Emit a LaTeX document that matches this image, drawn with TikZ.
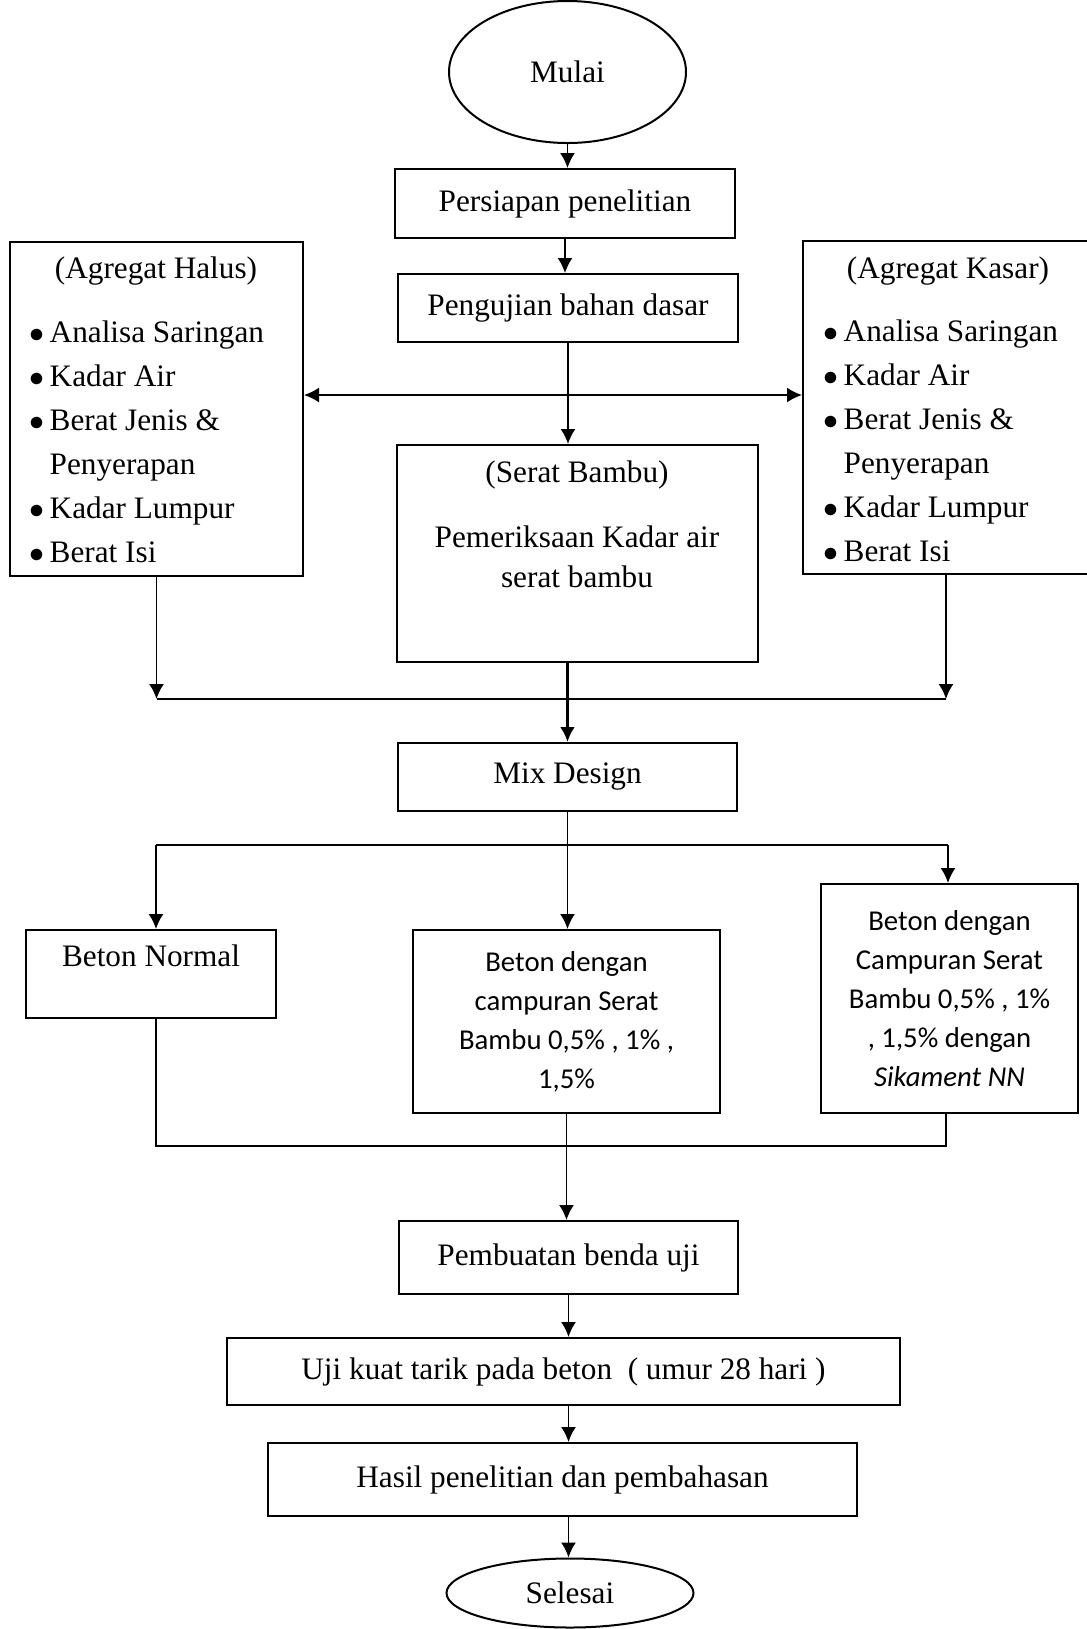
\documentclass[tikz,border=0pt]{standalone}
\usepackage{fontspec}
\setmainfont{Liberation Serif}
\newfontfamily\calfont{Carlito}
\usetikzlibrary{shapes.geometric,arrows.meta,calc}

\begin{document}
\begin{tikzpicture}[x=0.4pt, y=-0.4pt, >={Latex[length=6pt,width=6pt]},
  font=\fontsize{12.5}{17.6}\selectfont,
  box/.style={draw, line width=0.8pt, rectangle, inner sep=0pt},
  oval/.style={draw, line width=0.8pt, ellipse, inner sep=0pt},
  conn/.style={line width=0.7pt},
  cal/.style={font=\calfont\fontsize{11.5}{15.6}\selectfont, align=center}]

\useasboundingbox (0,0) rectangle (1087,1629);

\node [oval, minimum width=94.8pt, minimum height=56.8pt] at (567.5, 72) (mulai) {Mulai};
\node [box, minimum width=136pt, minimum height=27.6pt] at (565, 203.5) (persiapan) {Persiapan penelitian};
\node [box, minimum width=136pt, minimum height=27.2pt] at (568, 308) (pengujian) {Pengujian bahan dasar};
\draw [->, conn] (mulai.south) -- (mulai.south |- persiapan.north);
\draw [->, conn] (persiapan.south) -- (persiapan.south |- pengujian.north);

\node [box, minimum width=117.2pt, minimum height=133.6pt] at (156.5, 409) (halus) {};
\node at (156, 271) (halusT) {(Agregat Halus)};
\node [anchor=west, align=left, inner sep=0pt] at (29, 442) (halusL) {$\bullet$\,Analisa Saringan\\
  $\bullet$\,Kadar Air\\ $\bullet$\,Berat Jenis \&\\ \phantom{$\bullet$\,}Penyerapan\\
  $\bullet$\,Kadar Lumpur\\ $\bullet$\,Berat Isi};

\node [box, minimum width=114.4pt, minimum height=133.2pt] at (946, 407.5) (kasar) {};
\node at (948, 271) (kasarT) {(Agregat Kasar)};
\node [anchor=west, align=left, inner sep=0pt] at (823, 441) (kasarL) {$\bullet$\,Analisa Saringan\\
  $\bullet$\,Kadar Air\\ $\bullet$\,Berat Jenis \&\\ \phantom{$\bullet$\,}Penyerapan\\
  $\bullet$\,Kadar Lumpur\\ $\bullet$\,Berat Isi};

\node [box, minimum width=144.4pt, minimum height=86.8pt] at (577.5, 553.5) (serat) {};
\node at (577, 475) (seratT) {(Serat Bambu)};
\node [align=center, font=\fontsize{12.5}{15.8}\selectfont] at (577, 557) (seratL) {Pemeriksaan Kadar air\\serat bambu};

\coordinate (hub) at (568, 395);
\draw [->, conn] (pengujian.south) -- (pengujian.south |- serat.north);
\draw [<->, conn] (halus.east |- hub) -- (kasar.west |- hub);

\coordinate (jL) at (157, 699);
\coordinate (jR) at (946, 699);
\draw [->, conn] (halus.south) -- (halus.south |- jL);
\draw [->, conn] (kasar.south) -- (kasar.south |- jR);
\draw [conn] (jL) -- (jR);

\node [box, minimum width=135.6pt, minimum height=27.2pt] at (567.5, 777) (mix) {Mix Design};
\draw [->, line width=1.2pt] (mix.north |- serat.south) -- (mix.north);

\node [box, minimum width=100pt, minimum height=35.2pt] at (151, 974) (normal) {};
\node at (151, 956) (normalT) {Beton Normal};
\node [box, cal, minimum width=122.8pt, minimum height=73.2pt] at (566.5, 1021.5) (campur) {Beton dengan\\campuran Serat\\Bambu 0,5\% , 1\% ,\\1,5\%};
\node [box, cal, minimum width=102.8pt, minimum height=91.6pt] at (949.5, 998.5) (sika) {Beton dengan\\Campuran Serat\\Bambu 0,5\% , 1\%\\, 1,5\% dengan\\\textit{Sikament NN}};

\coordinate (bL) at (156, 845);
\coordinate (bR) at (948, 845);
\draw [conn] (bL) -- (bR);
\draw [->, conn] (mix.south) -- (mix.south |- campur.north);
\draw [->, conn] (bL) -- (bL |- normal.north);
\draw [->, conn] (bR) -- (bR |- sika.north);

\coordinate (cL) at (156, 1146);
\coordinate (cR) at (946, 1146);
\draw [conn] (normal.south -| cL) -- (cL) -- (cR) -- (cR |- sika.south);

\node [box, minimum width=135.6pt, minimum height=29.2pt] at (568.5, 1257.5) (pembuatan) {Pembuatan benda uji};
\node [box, minimum width=269.2pt, minimum height=26.8pt] at (563.5, 1371.5) (uji) {Uji kuat tarik pada beton\ \ ( umur 28 hari )};
\node [box, minimum width=235.6pt, minimum height=29.2pt] at (562.5, 1479.5) (hasil) {Hasil penelitian dan pembahasan};
\node [oval, minimum width=98.8pt, minimum height=27.6pt] at (570, 1593) (selesai) {Selesai};

\draw [->, conn] (campur.south) -- (campur.south |- pembuatan.north);
\draw [->, conn] (pembuatan.south) -- (pembuatan.south |- uji.north);
\draw [->, conn] (uji.south -| pembuatan.south) -- (pembuatan.south |- hasil.north);
\draw [->, conn] (hasil.south -| pembuatan.south) -- (pembuatan.south |- selesai.north);

\end{tikzpicture}
\end{document}
